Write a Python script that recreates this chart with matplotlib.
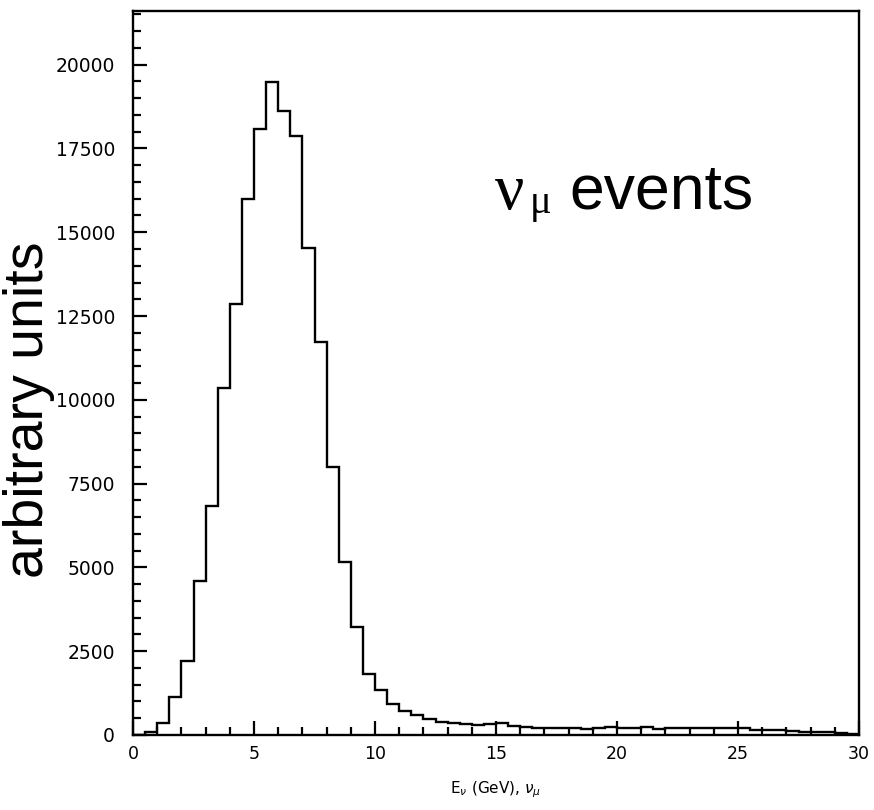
import numpy as np
import matplotlib
matplotlib.use("Agg")
import matplotlib.pyplot as plt
from matplotlib.ticker import MultipleLocator

# bin edges (GeV) and contents
bin_edges = np.arange(0, 30.5, 0.5)
counts = [
    0, 100, 370, 1145, 2220, 4580, 6820, 10340, 12850, 16000,
    18070, 19480, 18620, 17870, 14520, 11710, 7990, 5175, 3220, 1825,
    1335, 930, 710, 600, 470, 390, 360, 320, 290, 320,
    350, 270, 230, 220, 220, 220, 210, 190, 220, 230,
    220, 220, 230, 190, 220, 210, 200, 210, 200, 210,
    220, 140, 160, 150, 110, 100, 80, 80, 70, 40,
]
x_ticks = [0, 5, 10, 15, 20, 25, 30]
y_ticks = [0, 2500, 5000, 7500, 10000, 12500, 15000, 17500, 20000]

plt.rcParams["mathtext.fontset"] = "dejavusans"

fig = plt.figure(figsize=(8.74, 8.10), dpi=100)
ax = fig.add_axes([133/874, 1-735/810, (859-133)/874, (735-11)/810])

ax.stairs(counts, bin_edges, color="black", lw=1.7)

ax.set_xlim(0, 30)
ax.set_ylim(0, 21600)
ax.set_xticks(x_ticks)
ax.set_yticks(y_ticks)
ax.xaxis.set_minor_locator(MultipleLocator(1))
ax.yaxis.set_minor_locator(MultipleLocator(500))
ax.tick_params(which="both", direction="in", width=1.6, top=False, right=False)
ax.tick_params(which="major", length=10)
ax.tick_params(which="minor", length=5.5)
ax.tick_params(axis="y", which="major", pad=13)
ax.tick_params(axis="x", which="major", pad=7)
for lab in ax.get_xticklabels():
    lab.set_fontfamily("DejaVu Sans")
    lab.set_fontsize(12.5)
for lab in ax.get_yticklabels():
    lab.set_fontfamily("DejaVu Sans")
    lab.set_fontsize(13.5)
for sp in ax.spines.values():
    sp.set_linewidth(1.7)

# annotation
ax.text(14.95, 15695, "\u03bd", fontsize=47, family="Liberation Serif",
        ha="left", va="baseline")
ax.text(16.4, 15560, "\u03bc", fontsize=29, family="Liberation Serif",
        ha="left", va="baseline")
ax.text(18.05, 15695, "events", fontsize=45, family="Liberation Sans",
        ha="left", va="baseline")

# y label
fig.text(55/874, 1-410/810, "arbitrary units", rotation=90, fontsize=40,
         family="Liberation Sans", ha="right", va="center")
# x label
fig.text(496/874, 1-790/810, r"E$_{\nu}$ (GeV), $\nu_{\mu}$", fontsize=11,
         family="DejaVu Sans", ha="center", va="center")

fig.savefig("out.png", dpi=100)
